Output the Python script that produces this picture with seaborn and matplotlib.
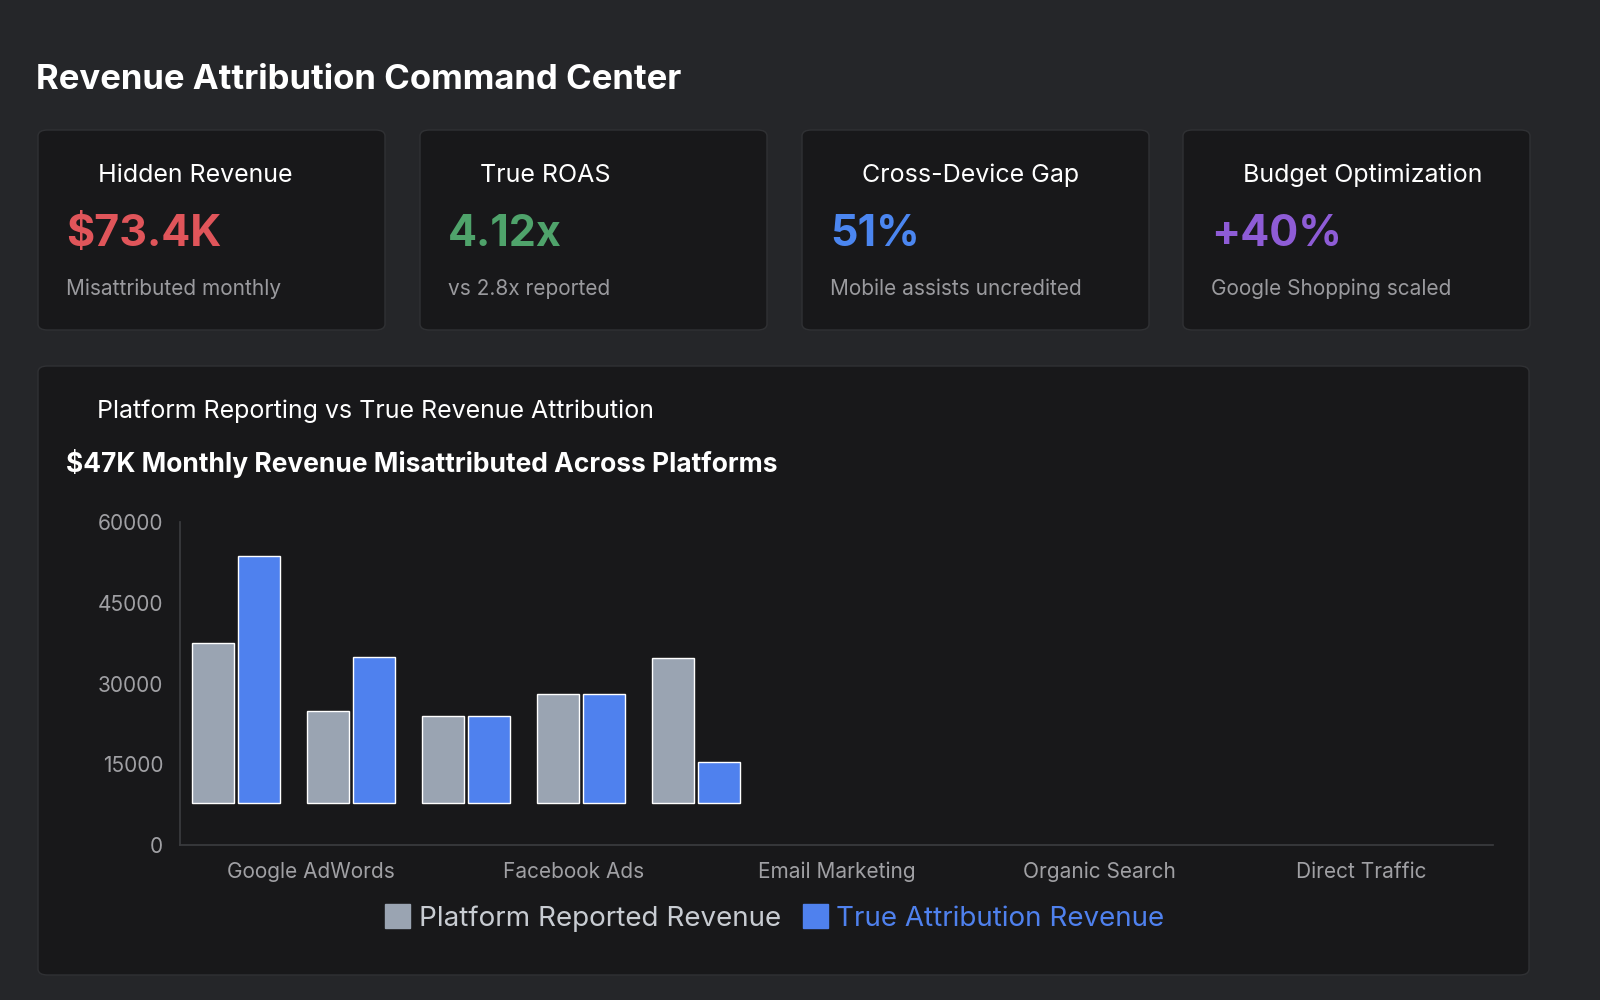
import matplotlib
matplotlib.use("Agg")
import matplotlib.pyplot as plt
import seaborn as sns
import pandas as pd
from matplotlib.patches import FancyBboxPatch, Patch

categories = ["Google AdWords", "Facebook Ads", "Email Marketing", "Organic Search", "Direct Traffic"]
platform_reported = [37600, 24800, 23900, 28100, 34800]
true_attribution = [53700, 35000, 23900, 28100, 15400]
bar_base = 7800  # bars in the source float above zero
yticks = [0, 15000, 30000, 45000, 60000]

kpis = [
    ("Hidden Revenue", "$73.4K", "Misattributed monthly", "#e0555a"),
    ("True ROAS", "4.12x", "vs 2.8x reported", "#4fa36b"),
    ("Cross-Device Gap", "51%", "Mobile assists uncredited", "#4b86f0"),
    ("Budget Optimization", "+40%", "Google Shopping scaled", "#8e5cd6"),
]

BG = "#252629"
CARD = "#18181a"
GREY = "#9aa4b2"
BLUE = "#4f81ee"

sns.set_theme(style="dark")
plt.rcParams["font.family"] = ["Inter", "DejaVu Sans"]

fig = plt.figure(figsize=(16, 10), dpi=100)
fig.patch.set_facecolor(BG)

def fx(px): return px / 1600
def fy(py): return 1 - py / 1000

def card(x0, y0, x1, y1):
    fig.patches.append(FancyBboxPatch((fx(x0), fy(y1)), fx(x1 - x0), fy(y0) - fy(y1),
                                      boxstyle="round,pad=0,rounding_size=0.006",
                                      transform=fig.transFigure, facecolor=CARD,
                                      edgecolor="#303134", linewidth=1, zorder=-5))

fig.text(fx(36), fy(80), "Revenue Attribution Command Center", color="white",
         fontsize=25, fontweight="bold", va="center")

card_x = [38, 420, 802, 1183]
for (title, value, sub, col), x0 in zip(kpis, card_x):
    card(x0, 130, x0 + 347, 330)
    fig.text(fx(x0 + 60), fy(175), title, color="white", fontsize=18, va="center")
    fig.text(fx(x0 + 28), fy(234), value, color=col, fontsize=31, fontweight="bold", va="center")
    fig.text(fx(x0 + 28), fy(289), sub, color="#9a9a9e", fontsize=15, va="center")

card(38, 366, 1529, 975)
fig.text(fx(97), fy(411), "Platform Reporting vs True Revenue Attribution", color="white",
         fontsize=18, va="center")
fig.text(fx(66), fy(463), "$47K Monthly Revenue Misattributed Across Platforms", color="white",
         fontsize=19, fontweight="bold", va="center")

# main axis with category labels
ax = fig.add_axes([fx(180), fy(845), fx(1493 - 180), fy(522) - fy(845)])
ax.set_zorder(2)
ax.patch.set_alpha(0)
ax.set_xlim(-0.5, 4.5)
ax.set_ylim(0, 60000)
ax.set_xticks(range(len(categories)))
ax.set_xticklabels(categories)
ax.set_yticks(yticks)
ax.tick_params(colors="#a0a0a4", labelsize=15, length=0, pad=12)
for s in ["top", "right"]:
    ax.spines[s].set_visible(False)
for s in ["left", "bottom"]:
    ax.spines[s].set_color("#3a3b3e")
ax.grid(False)

# overlay axis where the bars are actually drawn
ov = fig.add_axes(ax.get_position())
ov.set_zorder(3)
ov.patch.set_alpha(0)
df = pd.DataFrame({
    "platform": categories * 2,
    "series": ["Platform Reported Revenue"] * 5 + ["True Attribution Revenue"] * 5,
    "value": [v - bar_base for v in platform_reported + true_attribution],
})
sns.barplot(data=df, x="platform", y="value", hue="series", ax=ov,
            palette=[GREY, BLUE], width=0.8, gap=0.1, legend=False, saturation=1)
ov.set_xlim(-0.487, 10.93)
ov.set_ylim(-bar_base, 60000 - bar_base)
ov.axis("off")

handles = [Patch(color=GREY), Patch(color=BLUE)]
leg = fig.legend(handles, ["Platform Reported Revenue", "True Attribution Revenue"],
                 loc="center", bbox_to_anchor=(fx(775), fy(918)), ncol=2, frameon=False,
                 fontsize=20, handlelength=0.9, handleheight=0.9, columnspacing=0.8,
                 handletextpad=0.3)
for t, c in zip(leg.get_texts(), ["#c8ccd2", BLUE]):
    t.set_color(c)

fig.savefig("out.png", dpi=100, facecolor=BG)
